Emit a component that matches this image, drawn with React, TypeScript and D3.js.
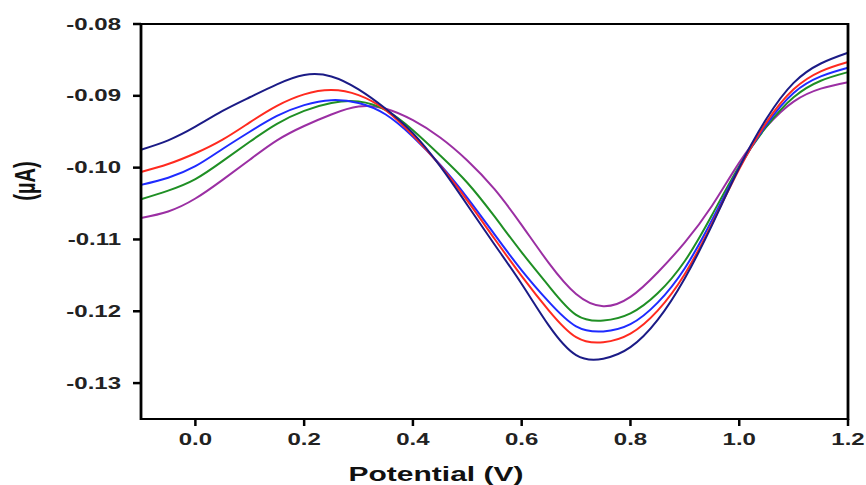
import React from 'react'
import * as d3 from 'd3'

// potential (V) sampled every 0.05 V
const potential = [
  -0.1, -0.05, 0, 0.05, 0.1, 0.15, 0.2, 0.25, 0.3, 0.35, 0.4, 0.45, 0.5, 0.55,
  0.6, 0.65, 0.7, 0.75, 0.8, 0.85, 0.9, 0.95, 1.0, 1.05, 1.1, 1.15, 1.2
]

const navyCurrent = [
  -0.0975, -0.0962, -0.0943, -0.0921, -0.0902, -0.0884, -0.0871, -0.0873, -0.0891,
  -0.0918, -0.0952, -0.0998, -0.1052, -0.1107, -0.1162, -0.1220, -0.1261, -0.1266,
  -0.1250, -0.1212, -0.1154, -0.1080, -0.1000, -0.0932, -0.0882, -0.0855, -0.0840
]
const redCurrent = [
  -0.1006, -0.0995, -0.0980, -0.0961, -0.0937, -0.0914, -0.0898, -0.0892, -0.0899,
  -0.0920, -0.0955, -0.0997, -0.1046, -0.1099, -0.1151, -0.1199, -0.1236, -0.1243,
  -0.1231, -0.1199, -0.1148, -0.1078, -0.1002, -0.0937, -0.0891, -0.0866, -0.0853
]
const blueCurrent = [
  -0.1024, -0.1014, -0.0998, -0.0974, -0.0950, -0.0928, -0.0913, -0.0906, -0.0910,
  -0.0926, -0.0957, -0.0996, -0.1042, -0.1093, -0.1143, -0.1187, -0.1221, -0.1228,
  -0.1218, -0.1188, -0.1140, -0.1073, -0.1000, -0.0940, -0.0896, -0.0873, -0.0861
]
const greenCurrent = [
  -0.1044, -0.1032, -0.1016, -0.0991, -0.0964, -0.0939, -0.0921, -0.0910, -0.0908,
  -0.0920, -0.0948, -0.0983, -0.1021, -0.1068, -0.1118, -0.1165, -0.1205, -0.1213,
  -0.1203, -0.1175, -0.1130, -0.1066, -0.0998, -0.0943, -0.0902, -0.0879, -0.0867
]
const purpleCurrent = [
  -0.1070, -0.1061, -0.1043, -0.1017, -0.0989, -0.0962, -0.0942, -0.0926, -0.0915,
  -0.0918, -0.0934, -0.0958, -0.0990, -0.1030, -0.1080, -0.1133, -0.1176, -0.1193,
  -0.1180, -0.1146, -0.1104, -0.1053, -0.0993, -0.0943, -0.0908, -0.0890, -0.0881
]

const seriesList = [
  { values: purpleCurrent, color: '#9b2fa3' },
  { values: greenCurrent, color: '#1f8f24' },
  { values: blueCurrent, color: '#1f2bff' },
  { values: redCurrent, color: '#ff2a1f' },
  { values: navyCurrent, color: '#1b1b86' }
]

const xTicks = [0, 0.2, 0.4, 0.6, 0.8, 1.0, 1.2]
const yTicks = [-0.08, -0.09, -0.1, -0.11, -0.12, -0.13]

const font = "'Liberation Sans', Arial, sans-serif"

export default function App () {
  const width = 866
  const height = 485
  const left = 141
  const right = 848
  const top = 24
  const bottom = 419

  const x = d3.scaleLinear().domain([-0.1, 1.2]).range([left, right])
  const y = d3.scaleLinear().domain([-0.135, -0.08]).range([bottom, top])

  const line = d3.line<number>()
    .x((d, i) => x(potential[i]))
    .y(d => y(d))
    .curve(d3.curveNatural)

  return (
    <svg width={width} height={height} style={{ position: 'absolute', left: 0, top: 0, background: '#fff' }}>
      {seriesList.map((s, i) => (
        <path key={i} d={line(s.values) || ''} fill='none' stroke={s.color} strokeWidth={2} />
      ))}

      <line x1={left} x2={right} y1={top} y2={top} stroke='#000' strokeWidth={2} />
      <line x1={left} x2={right} y1={bottom} y2={bottom} stroke='#000' strokeWidth={2.2} />
      <line x1={left} x2={left} y1={top - 1} y2={bottom + 1} stroke='#000' strokeWidth={2.8} />
      <line x1={right} x2={right} y1={top - 1} y2={bottom + 1} stroke='#000' strokeWidth={2.8} />

      {yTicks.map(t => (
        <g key={t}>
          <line x1={left - 8} x2={left} y1={y(t)} y2={y(t)} stroke='#000' strokeWidth={2.5} />
          <text
            transform={`translate(121,${y(t) + 5.5}) scale(1.5,1)`}
            textAnchor='end' fontFamily={font} fontWeight='bold' fontSize={16} fill='#222'
          >{t.toFixed(2)}</text>
        </g>
      ))}

      {xTicks.map(t => (
        <g key={t}>
          <line x1={x(t)} x2={x(t)} y1={bottom} y2={bottom + 7} stroke='#000' strokeWidth={2.5} />
          <text
            transform={`translate(${x(t)},445) scale(1.5,1)`}
            textAnchor='middle' fontFamily={font} fontWeight='bold' fontSize={16} fill='#222'
          >{t.toFixed(1)}</text>
        </g>
      ))}

      <text
        transform='translate(436,481) scale(1.5,1)'
        textAnchor='middle' fontFamily={font} fontWeight='bold' fontSize={20} fill='#111'
      >Potential (V)</text>

      <text
        transform='translate(35,181) scale(1.5,1) rotate(-90)'
        textAnchor='middle' fontFamily={font} fontWeight='bold' fontSize={20} fill='#111'
      >(µA)</text>
    </svg>
  )
}
